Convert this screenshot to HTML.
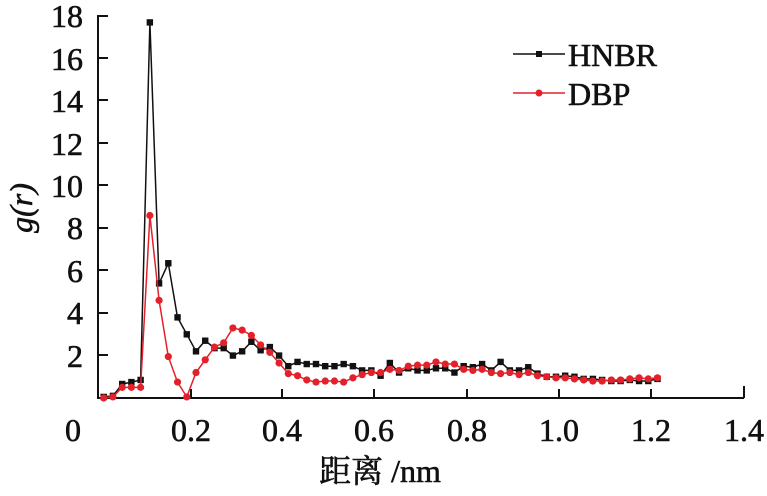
<!DOCTYPE html>
<html><head><meta charset="utf-8"><style>
html,body{margin:0;padding:0;background:#fff;}
svg{display:block;}
text{font-family:"Liberation Serif","Noto Serif CJK SC",serif;fill:#111;stroke:#111;stroke-width:0.6;}
</style></head><body>
<svg id="s" width="767" height="496" xmlns="http://www.w3.org/2000/svg">
<g font-size="32" text-anchor="end">
<text x="83" y="27">18</text><text x="83" y="70">16</text><text x="83" y="112">14</text>
<text x="83" y="155">12</text><text x="83" y="197">10</text><text x="83" y="239">8</text>
<text x="83" y="282">6</text><text x="83" y="324">4</text><text x="83" y="367">2</text>
</g>
<g font-size="32" text-anchor="middle">
<text x="73" y="441">0</text><text x="191" y="441">0.2</text><text x="282" y="441">0.4</text>
<text x="374" y="441">0.6</text><text x="467" y="441">0.8</text><text x="559" y="441">1.0</text>
<text x="651" y="441">1.2</text><text x="744" y="441">1.4</text>
<text x="380" y="482">距离 /nm</text>
</g>
<text transform="translate(32,208) rotate(-90)" font-size="32" font-style="italic" text-anchor="middle">g(r)</text>
<g stroke="#111" stroke-width="2" fill="none">
<path d="M98,15 V398 H744"/>
<path d="M98,16h10M98,58h10M98,100h10M98,143h10M98,185h10M98,228h10M98,270h10M98,313h10M98,355h10"/>
<path d="M191,398v-9M282,398v-9M374,398v-9M467,398v-9M559,398v-9M651,398v-9M744,398v-12"/>
</g>
<g id="plot"></g>
<line x1="513" y1="54" x2="565" y2="54" stroke="#111" stroke-width="1.5"/>
<rect x="536" y="51" width="6" height="6" fill="#111"/>
<line x1="513" y1="93" x2="565" y2="93" stroke="#e3212b" stroke-width="1.5"/>
<circle cx="539" cy="93" r="3.5" fill="#e3212b"/>
<text x="568" y="66" font-size="32">HNBR</text>
<text x="568" y="105" font-size="32">DBP</text>
</svg>
<script>
var H=[0.05,0.1,0.66,0.75,0.85,17.7,5.4,6.35,3.8,3.0,2.2,2.7,2.35,2.35,2.0,2.2,2.65,2.25,2.4,2.0,1.5,1.7,1.6,1.6,1.5,1.5,1.6,1.5,1.3,1.3,1.05,1.65,1.2,1.4,1.3,1.3,1.4,1.4,1.2,1.5,1.45,1.6,1.3,1.7,1.3,1.3,1.45,1.15,1.0,1.0,1.05,1.0,0.9,0.9,0.85,0.8,0.8,0.85,0.8,0.8,0.9];
var D=[0,0.05,0.5,0.5,0.5,8.6,4.6,1.95,0.75,0.05,1.2,1.8,2.4,2.6,3.3,3.2,2.95,2.5,2.15,1.65,1.15,1.05,0.85,0.75,0.8,0.8,0.75,0.95,1.1,1.2,1.2,1.35,1.3,1.5,1.55,1.55,1.7,1.6,1.6,1.35,1.3,1.35,1.2,1.15,1.2,1.1,1.2,1.05,1.0,0.95,0.95,0.9,0.85,0.8,0.8,0.85,0.85,0.9,0.95,0.9,0.95];
var g=document.getElementById('plot'),out='';
function X(k){return 103.7+9.23*k;}function Y(v){return 398-v*21.22;}
function line(a,c){var p=a.map(function(v,k){return X(k).toFixed(1)+','+Y(v).toFixed(1)}).join(' ');
return '<polyline points="'+p+'" fill="none" stroke="'+c+'" stroke-width="1.5"/>';}
out+=line(H,'#111');
H.forEach(function(v,k){out+='<rect x="'+(X(k)-3.2)+'" y="'+(Y(v)-3.2)+'" width="6.4" height="6.4" fill="#111"/>';});
out+=line(D,'#e3212b');
D.forEach(function(v,k){out+='<circle cx="'+X(k)+'" cy="'+Y(v)+'" r="3.6" fill="#e3212b"/>';});
g.innerHTML=out;
</script>
</body></html>
